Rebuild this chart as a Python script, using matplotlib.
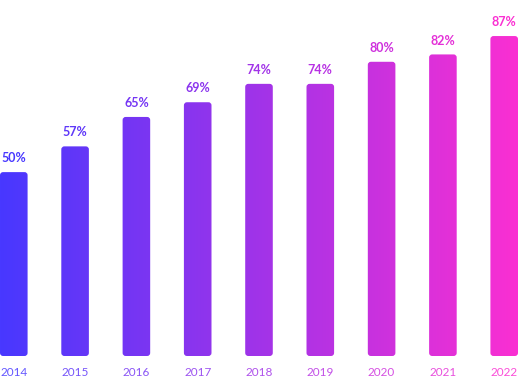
import matplotlib
matplotlib.use("Agg")
import matplotlib.pyplot as plt
import numpy as np
from matplotlib.patches import FancyBboxPatch
from matplotlib.colors import LinearSegmentedColormap

years = ['2014', '2015', '2016', '2017', '2018', '2019', '2020', '2021', '2022']
values = [50, 57, 65, 69, 74, 74, 80, 82, 87]

cmap = LinearSegmentedColormap.from_list('grad', ['#4838ff', '#fa2fd2'])

fig = plt.figure(figsize=(5.18, 3.81), dpi=100)
ax = fig.add_axes([0, 25 / 381, 1, 356 / 381])
width = 0.45
ax.set_xlim(-width / 2, len(years) - 1 + width / 2)
ax.set_ylim(0, 96.8)
ax.axis('off')

# gradient behind everything, clipped to each bar
grad = np.linspace(0, 1, 256).reshape(1, -1)
x0, x1 = ax.get_xlim()
y0, y1 = ax.get_ylim()

for i, (yr, v) in enumerate(zip(years, values)):
    frac = i / (len(years) - 1)
    col = cmap(frac)
    box = FancyBboxPatch((i - width / 2, 0), width, v,
                         boxstyle='round,pad=0,rounding_size=0.05',
                         mutation_aspect=16.6, linewidth=0, facecolor='none')
    ax.add_patch(box)
    im = ax.imshow(grad, extent=[x0, x1, y0, y1], aspect='auto', cmap=cmap,
                   interpolation='bilinear')
    im.set_clip_path(box)
    ax.annotate(f'{v}%', (i, v), xytext=(0, 10), textcoords='offset points',
                ha='center', va='center', fontsize=9, fontweight='bold',
                color=col, family='Lato')
    ax.annotate(yr, (i, 0), xytext=(0, -12), textcoords='offset points',
                ha='center', va='center', fontsize=8.5, color=col, alpha=0.85,
                family='Lato')

ax.set_xlim(x0, x1)
ax.set_ylim(y0, y1)
fig.savefig('out.png', dpi=100)
